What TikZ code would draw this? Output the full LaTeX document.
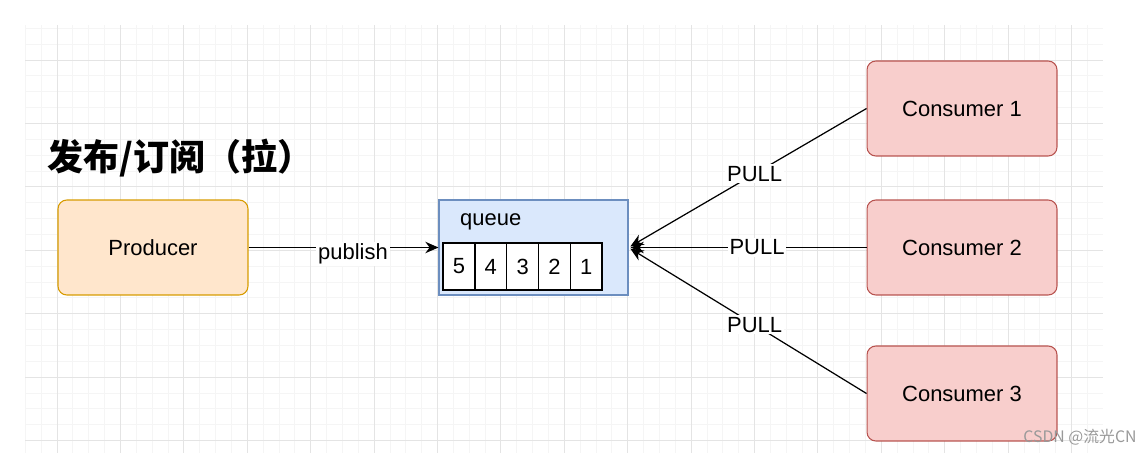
\documentclass[tikz,border=0pt]{standalone}
\usepackage{fontspec}
\setmainfont{Liberation Sans}
\newfontfamily\cjk{Noto Sans CJK SC}
\usetikzlibrary{arrows.meta}

\definecolor{prodfill}{HTML}{FFE6CC}
\definecolor{prodline}{HTML}{D79B00}
\definecolor{queuefill}{HTML}{DAE8FC}
\definecolor{queueline}{HTML}{6C8EBF}
\definecolor{consfill}{HTML}{F8CECC}
\definecolor{consline}{HTML}{B85450}
\definecolor{gridmajor}{HTML}{E4E4E4}
\definecolor{gridminor}{HTML}{F5F5F5}

\tikzset{
  prodbox/.style={draw=prodline,fill=prodfill,rounded corners=5pt,line width=0.6pt,minimum width=3.8cm,minimum height=1.9cm},
  consbox/.style={draw=consline,fill=consfill,rounded corners=5pt,line width=0.6pt,minimum width=3.8cm,minimum height=1.9cm},
  queuebox/.style={draw=queueline,fill=queuefill,line width=0.6pt,minimum width=3.78cm,minimum height=1.9cm},
  cellbox/.style={draw,fill=white,line width=0.7pt,inner sep=0pt,minimum width=0.636cm,minimum height=0.94cm},
  flowarrow/.style={-{Stealth[length=7.5pt,width=6.5pt]},line width=0.7pt},
  edgelabel/.style={fill=white,inner sep=1pt}
}

\begin{document}
\begin{tikzpicture}[x=0.02cm,y=-0.02cm,every node/.style={font=\fontsize{12.5}{15}\selectfont}]
  \useasboundingbox (0,0) rectangle (1142,453);
  % background grid
  \foreach \i in {0,...,67} \draw[gridminor,line width=0.4pt] ({25.3+15.85*\i},25) -- ({25.3+15.85*\i},453);
  \foreach \i in {0,...,26} \draw[gridminor,line width=0.4pt] (25,{28.3+15.85*\i}) -- (1103,{28.3+15.85*\i});
  \foreach \i in {0,...,16} \draw[gridmajor,line width=0.5pt] ({57+63.4*\i},25) -- ({57+63.4*\i},453);
  \foreach \i in {0,...,6} \draw[gridmajor,line width=0.5pt] (25,{60+63.4*\i}) -- (1103,{60+63.4*\i});

  \node[anchor=west,font=\cjk\bfseries\fontsize{20.5}{24}\selectfont] (title) at (41,158) {发布/订阅（拉）};

  \node[prodbox] (producer) at (153,247.5) {Producer};
  \node[queuebox] (queue) at (533.5,247.5) {};
  \node[anchor=west] (qlabel) at (454,222) {queue};
  \foreach \n [count=\i] in {5,4,3,2,1}
    \node[cellbox] (cell\n) at ({459+31.8*(\i-1)},266.5) {\n};

  \node[consbox] (cons1) at (962,108.5) {Consumer 1};
  \node[consbox] (cons2) at (962,247.5) {Consumer 2};
  \node[consbox] (cons3) at (962,393.5) {Consumer 3};

  \draw[flowarrow] (producer) -- node[edgelabel,pos=0.55,yshift=-3.5pt] (publish) {publish} (queue);
  \draw[flowarrow,shorten >=1.2pt] (cons1.west) -- node[edgelabel,pos=0.47] (pull1) {PULL} (queue.east);
  \draw[flowarrow,shorten >=1.2pt] (cons2.west) -- node[edgelabel,pos=0.46] (pull2) {PULL} (queue.east);
  \draw[flowarrow,shorten >=1.2pt] (cons3.west) -- node[edgelabel,pos=0.47] (pull3) {PULL} (queue.east);

  \node[text=gray!80,font=\cjk\fontsize{9}{10}\selectfont] (mark) at (1080,437) {CSDN @流光CN};
\end{tikzpicture}
\end{document}
